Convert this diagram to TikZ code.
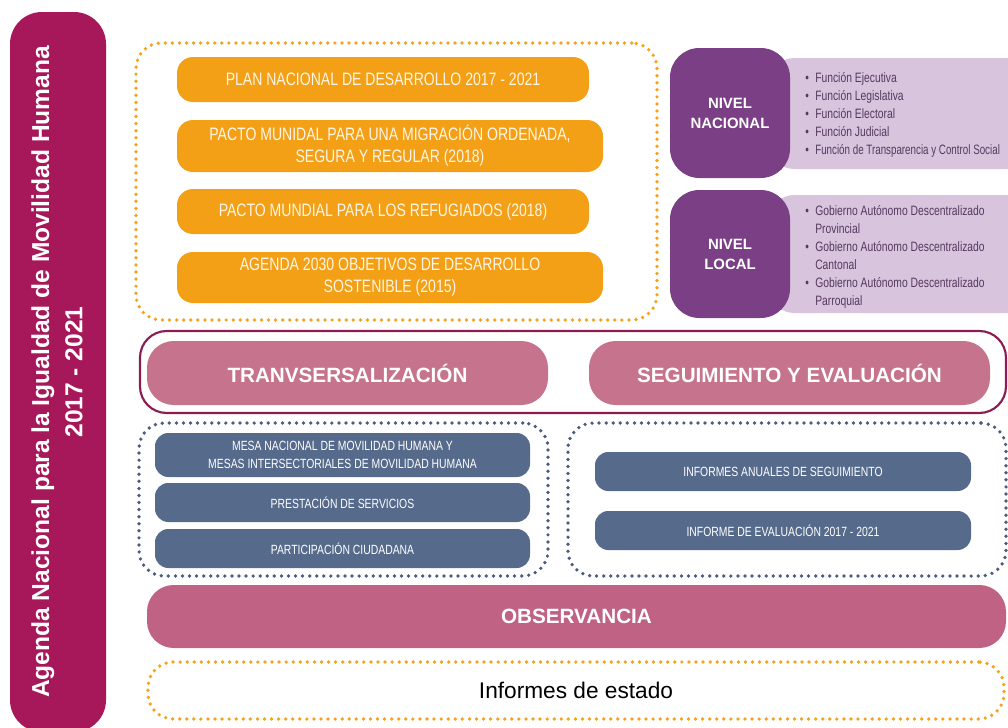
\documentclass[tikz,border=0pt]{standalone}
\usepackage{fontspec}
\setmainfont{Liberation Sans}
\newfontfamily\condfont[FakeStretch=0.78]{Liberation Sans}
\newfontfamily\listfont[FakeStretch=0.76]{Liberation Sans}
\newfontfamily\listfontn[FakeStretch=0.72]{Liberation Sans}
\usetikzlibrary{fit}
\definecolor{barmag}{HTML}{A6185A}
\definecolor{orfill}{HTML}{F3A016}
\definecolor{ordot}{HTML}{F5A31E}
\definecolor{cream}{HTML}{FFF6E6}
\definecolor{purpfill}{HTML}{7B3F85}
\definecolor{lavfill}{HTML}{D9C4DE}
\definecolor{bultext}{HTML}{55395F}
\definecolor{pinkfill}{HTML}{C6738E}
\definecolor{outerc}{HTML}{8C1D52}
\definecolor{bluefill}{HTML}{566A8C}
\definecolor{bluedot}{HTML}{4A5C80}
\definecolor{obsfill}{HTML}{BF6283}
\newcommand\bul{\makebox[7.5pt][l]{\textbullet}}
\begin{document}
\begin{tikzpicture}[x=0.75pt,y=-0.75pt,
  wh/.style 2 args={minimum width={#1*0.75pt}, minimum height={#2*0.75pt}},
  box/.style={inner sep=0pt, align=center, text=white},
  obox/.style={box, fill=orfill, text=cream, rounded corners=12pt,
    font=\condfont\fontsize{13.5}{16.5}\selectfont},
  bbox/.style={box, fill=bluefill, rounded corners=10pt,
    font=\condfont\fontsize{10}{13.5}\selectfont},
  pbox/.style={box, fill=pinkfill, rounded corners=20pt,
    font=\bfseries\fontsize{15.5}{18}\selectfont},
  nivbox/.style={box, fill=purpfill, rounded corners=22pt,
    font=\bfseries\fontsize{11.2}{15}\selectfont},
  lavbox/.style={inner sep=0pt, fill=lavfill, rounded corners=18pt},
  listtext/.style={inner sep=0pt, align=left, text=bultext,
    font=\listfont\fontsize{10.2}{13.5}\selectfont},
  dotframe/.style={inner sep=0pt, line width=2.8pt, line cap=round,
    dash pattern=on 0pt off 5.3pt, rounded corners=19pt},
  odots/.style={dotframe, draw=ordot},
  bdots/.style={dotframe, draw=bluedot},
]
\useasboundingbox (0,0) rectangle (1008,728);
\clip (0,0) rectangle (1008,728);

% left vertical bar
\node[box, fill=barmag, rounded corners=24pt, fit={(10,12) (106,732)}] (bar) {};
\node[rotate=90, text=white, align=center,
  font=\bfseries\fontsize{18.4}{25}\selectfont] (title) at (57,372)
  {Agenda Nacional para la Igualdad de Movilidad Humana\\2017 - 2021};

% top-left orange frame and boxes
\node[odots, fit={(136,43) (657,320)}] (oframe) {};
\node[obox, wh={412}{45}] (pnd) at (383,79.5) {PLAN NACIONAL DE DESARROLLO 2017 - 2021};
\node[obox, wh={426}{52}] (pmm) at (390,146) {PACTO MUNIDAL PARA UNA MIGRACIÓN ORDENADA,\\SEGURA Y REGULAR (2018)};
\node[obox, wh={412}{45}] (pmr) at (383,211.5) {PACTO MUNDIAL PARA LOS REFUGIADOS (2018)};
\node[obox, wh={426}{51}] (a2030) at (390,277.5) {AGENDA 2030 OBJETIVOS DE DESARROLLO\\SOSTENIBLE (2015)};

% nivel nacional
\node[lavbox, fit={(770,58) (1030,169)}] (natlav) {};
\node[nivbox, wh={120}{130}] (natl) at (730,113) {NIVEL\\NACIONAL};
\node[listtext, anchor=west] (natlist) at (805,115)
  {\bul Función Ejecutiva\\\bul Función Legislativa\\\bul Función Electoral\\\bul Función Judicial\\\bul {\listfontn Función de Transparencia y Control Social}};

% nivel local
\node[lavbox, fit={(770,195) (1030,313)}] (loclav) {};
\node[nivbox, wh={120}{128}] (locl) at (730,254) {NIVEL\\LOCAL};
\node[listtext, anchor=west] (loclist) at (805,257)
  {\bul Gobierno Autónomo Descentralizado\\\hspace*{7.5pt}Provincial\\\bul Gobierno Autónomo Descentralizado\\\hspace*{7.5pt}Cantonal\\\bul Gobierno Autónomo Descentralizado\\\hspace*{7.5pt}Parroquial};

% transversalizacion frame
\node[inner sep=0pt, draw=outerc, line width=1.6pt, rounded corners=20pt,
  fit={(140,331) (1006,413)}] (tframe) {};
\node[pbox, wh={401}{64}] (trans) at (347.5,373) {TRANVSERSALIZACIÓN};
\node[pbox, wh={401}{64}] (seg) at (789.5,373) {SEGUIMIENTO Y EVALUACIÓN};

% blue frames
\node[bdots, fit={(139,423) (548,576)}] (bframeL) {};
\node[bdots, fit={(568,423) (1006,576)}] (bframeR) {};
\node[bbox, wh={375}{44}] (mesa) at (342.5,455) {MESA NACIONAL DE MOVILIDAD HUMANA Y\\MESAS INTERSECTORIALES DE MOVILIDAD HUMANA};
\node[bbox, wh={375}{39}] (prest) at (342.5,502.5) {PRESTACIÓN DE SERVICIOS};
\node[bbox, wh={375}{39}] (part) at (342.5,548.5) {PARTICIPACIÓN CIUDADANA};
\node[bbox, wh={376}{39}] (infan) at (783,471.5) {INFORMES ANUALES DE SEGUIMIENTO};
\node[bbox, wh={376}{39}] (infev) at (783,530.5) {INFORME DE EVALUACIÓN 2017 - 2021};

% observancia
\node[box, fill=obsfill, rounded corners=20pt, wh={859}{63},
  font=\bfseries\fontsize{15.5}{18}\selectfont] (obs) at (576.5,616.5) {OBSERVANCIA};

% informes de estado
\node[odots, wh={856}{57}, text=black,
  font=\fontsize{17}{20}\selectfont] (inf) at (576,690.5) {Informes de estado};
\end{tikzpicture}
\end{document}
